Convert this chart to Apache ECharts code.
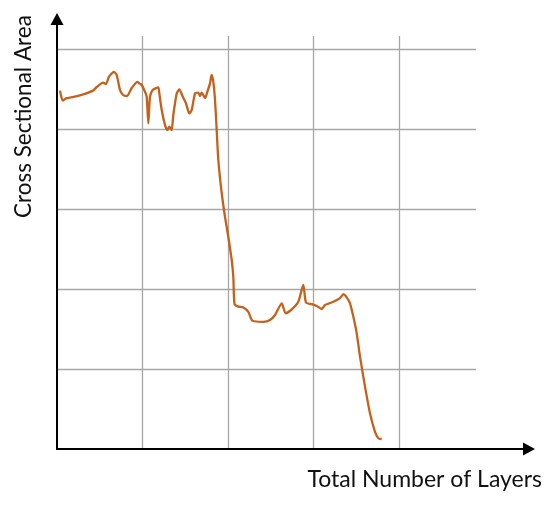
<!DOCTYPE html>
<html>
<head>
<meta charset="utf-8">
<script src="https://cdn.jsdelivr.net/npm/echarts@6/dist/echarts.min.js"></script>
<style>
  html, body { margin: 0; padding: 0; background: #fff; }
  #chart { width: 550px; height: 505px; }
</style>
</head>
<body>
<div id="chart"></div>
<script>
// layers (x) and cross sectional area (y)
const layers = [
  0.70, 1.33, 2.27, 5.38, 8.42, 9.29, 10.76, 11.46, 12.16, 13.33, 13.96, 14.74, 15.44, 16.37, 17.47,
  18.78, 19.25, 19.81, 20.58, 20.98, 21.36, 21.75, 22.38, 23.69, 23.93, 24.49, 25.26, 25.80, 26.27,
  26.83, 27.20, 28.00, 28.61, 29.40, 30.17, 30.95, 31.51, 32.28, 33.05, 33.45, 33.84, 34.62, 35.16,
  35.79, 36.14, 36.56, 36.96, 37.35, 37.73, 38.52, 39.30, 40.07, 40.86, 41.24, 41.52, 42.41, 43.58,
  44.75, 45.68, 48.25, 49.82, 50.99, 52.56, 53.49, 54.90, 56.44, 57.61, 58.24, 59.57, 60.74, 61.91,
  62.69, 64.63, 66.19, 66.97, 67.76, 68.53, 69.30, 70.10, 70.87, 72.04, 73.21, 74.38, 75.15, 75.95
]
const area = [
  89.6, 87.1, 87.7, 88.4, 89.6, 90.5, 91.6, 91.25, 93.1, 94.3, 93.5, 89.75, 88.5, 88.25, 90.25,
  91.8, 91.4, 91.0, 89.3, 88.1, 81.4, 88.1, 89.75, 90.4, 88.9, 84.75, 81.0, 79.75, 80.6,
  79.75, 83.5, 88.9, 89.9, 88.1, 86.4, 83.9, 84.75, 88.9, 89.1, 88.25, 89.1, 87.7, 89.3,
  91.4, 93.5, 91.8, 87.25, 79.75, 72.25, 64.0, 58.0, 53.0, 47.25, 43.0, 36.25, 35.6, 35.4,
  34.3, 32.1, 31.8, 32.25, 33.5, 36.4, 33.9, 34.9, 36.8, 41.0, 36.6, 36.2, 35.75, 35.0,
  36.0, 36.8, 37.7, 38.7, 37.9, 36.4, 33.1, 28.9, 23.1, 15.6, 8.9, 4.3, 2.7, 2.5
]
const xTitle = 'Total Number of Layers'
const yTitle = 'Cross Sectional Area'

const font = 'Lato, "Open Sans", sans-serif'
const gridColor = '#a6a6a6'

const chart = echarts.init(document.getElementById('chart'), null, { renderer: 'canvas' })

chart.setOption({
  backgroundColor: '#fff',
  animation: false,
  grid: [
    // plot area with the grid lines
    { left: 57, right: 74, top: 36, bottom: 56 },
    // the two axes with arrows
    { left: 57, right: 21, top: 19, bottom: 56 }
  ],
  xAxis: [{
    gridIndex: 0,
    type: 'value',
    min: 0,
    max: 98,
    interval: 20,
    axisLine: { show: false },
    axisTick: { show: false },
    axisLabel: { show: false },
    splitLine: { show: true, showMinLine: false, showMaxLine: false, lineStyle: { color: gridColor, width: 1.3 } }
  }, {
    gridIndex: 1,
    type: 'value',
    min: 0,
    max: 100,
    axisLine: {
      show: true,
      symbol: ['none', 'triangle'],
      symbolSize: [13, 12],
      lineStyle: { color: '#000', width: 2 }
    },
    axisTick: { show: false },
    axisLabel: { show: false },
    splitLine: { show: false }
  }],
  yAxis: [{
    gridIndex: 0,
    type: 'value',
    min: 0,
    max: 103.25,
    interval: 20,
    axisLine: { show: false },
    axisTick: { show: false },
    axisLabel: { show: false },
    splitLine: { show: true, showMinLine: false, showMaxLine: false, lineStyle: { color: gridColor, width: 1.3 } }
  }, {
    gridIndex: 1,
    type: 'value',
    min: 0,
    max: 100,
    axisLine: {
      show: true,
      symbol: ['none', 'triangle'],
      symbolSize: [13, 12],
      lineStyle: { color: '#000', width: 2 }
    },
    axisTick: { show: false },
    axisLabel: { show: false },
    splitLine: { show: false }
  }],
  graphic: [{
    type: 'text',
    right: 8,
    top: 468,
    style: { text: xTitle, font: '23px ' + font, fill: '#111' }
  }, {
    type: 'text',
    x: 12,
    y: 218,
    rotation: Math.PI / 2,
    style: { text: yTitle, font: '22.5px ' + font, fill: '#111' }
  }],
  series: [{
    type: 'line',
    xAxisIndex: 0,
    yAxisIndex: 0,
    data: layers.map((x, i) => [x, area[i]]),
    showSymbol: false,
    smooth: 0.2,
    lineStyle: { color: '#c4611b', width: 2.3 },
    z: 5
  }]
})
</script>
</body>
</html>
